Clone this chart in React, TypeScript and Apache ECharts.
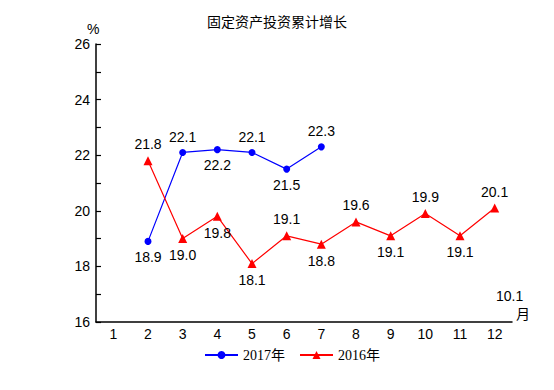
import React, { useEffect, useRef } from "react";
import * as echarts from "echarts";

const months = ["1", "2", "3", "4", "5", "6", "7", "8", "9", "10", "11", "12"];
const values2017: (number | null)[] = [null, 18.9, 22.1, 22.2, 22.1, 21.5, 22.3, null, null, null, null, null];
const pos2017 = ["", "bottom", "top", "bottom", "top", "bottom", "top", "", "", "", "", ""];
const values2016: (number | null)[] = [null, 21.8, 19.0, 19.8, 18.1, 19.1, 18.8, 19.6, 19.1, 19.9, 19.1, 20.1];
const pos2016 = ["", "top", "bottom", "bottom", "bottom", "top", "bottom", "top", "bottom", "top", "bottom", "top"];
const titleText = "固定资产投资累计增长";
const strayLabel = "10.1";

const sans = "Liberation Sans, Arial, sans-serif";
const serif = "Liberation Serif, DejaVu Serif, Noto Sans CJK SC, serif";

function build(values: (number | null)[], pos: string[]) {
  return values.map((v, i) =>
    v == null
      ? null
      : { value: v, label: { position: pos[i] } }
  );
}

export default function App() {
  const ref = useRef<HTMLDivElement>(null);
  useEffect(() => {
    const chart = echarts.init(ref.current!, null, { renderer: "svg" });
    chart.setOption({
      animation: false,
      backgroundColor: "#fff",
      title: {
        text: titleText,
        left: 272,
        textAlign: "center",
        top: 10,
        textStyle: { fontFamily: serif, fontSize: 14, fontWeight: "normal", color: "#000" },
      },
      grid: { left: 96, right: 42, top: 44, bottom: 68 },
      legend: {
        left: 199,
        top: 343,
        itemWidth: 33,
        itemHeight: 10,
        itemGap: 14,
        textStyle: { fontFamily: serif, fontSize: 14, color: "#000" },
        data: ["2017年", "2016年"],
      },
      xAxis: {
        type: "category",
        data: months,
        boundaryGap: true,
        axisLine: { lineStyle: { color: "#000", width: 1.5 } },
        axisTick: { inside: true, length: 5, lineStyle: { color: "#000", width: 1.2 }, alignWithLabel: false },
        axisLabel: { color: "#000", fontFamily: sans, fontSize: 14, margin: 5 },
        splitLine: { show: false },
      },
      yAxis: {
        type: "value",
        min: 16,
        max: 26,
        interval: 2,
        axisLine: { show: true, lineStyle: { color: "#000", width: 1.5 } },
        axisTick: { show: true, inside: true, length: 5, lineStyle: { color: "#000", width: 1.2 } },
        minorTick: { show: true, splitNumber: 2, length: 5, lineStyle: { color: "#000", width: 1.2 } },
        axisLabel: { color: "#000", fontFamily: sans, fontSize: 14, margin: 6 },
        splitLine: { show: false },
      },
      graphic: [
        { type: "text", left: 87, top: 22, style: { text: "%", font: `14px ${sans}`, fill: "#000" } },
        { type: "text", left: 516, top: 307, style: { text: "月", font: `14px ${serif}`, fill: "#000" } },
        { type: "text", left: 496, top: 289, style: { text: strayLabel, font: `14px ${sans}`, fill: "#000" } },
      ],
      series: [
        {
          name: "2017年",
          type: "line",
          data: build(values2017, pos2017),
          color: "#0000ff",
          symbol: "circle",
          symbolSize: 7,
          lineStyle: { width: 1.2, color: "#0000ff" },
          itemStyle: { color: "#0000ff" },
          label: { show: true, color: "#000", fontFamily: sans, fontSize: 14, distance: 5, formatter: (p: any) => Number(p.value).toFixed(1) },
        },
        {
          name: "2016年",
          type: "line",
          data: build(values2016, pos2016),
          color: "#ff0000",
          symbol: "triangle",
          symbolSize: 9,
          lineStyle: { width: 1.2, color: "#ff0000" },
          itemStyle: { color: "#ff0000" },
          label: { show: true, color: "#000", fontFamily: sans, fontSize: 14, distance: 5, formatter: (p: any) => Number(p.value).toFixed(1) },
        },
      ],
    });
    return () => chart.dispose();
  }, []);
  return <div ref={ref} style={{ width: 554, height: 390, position: "absolute", left: 0, top: 0 }} />;
}
